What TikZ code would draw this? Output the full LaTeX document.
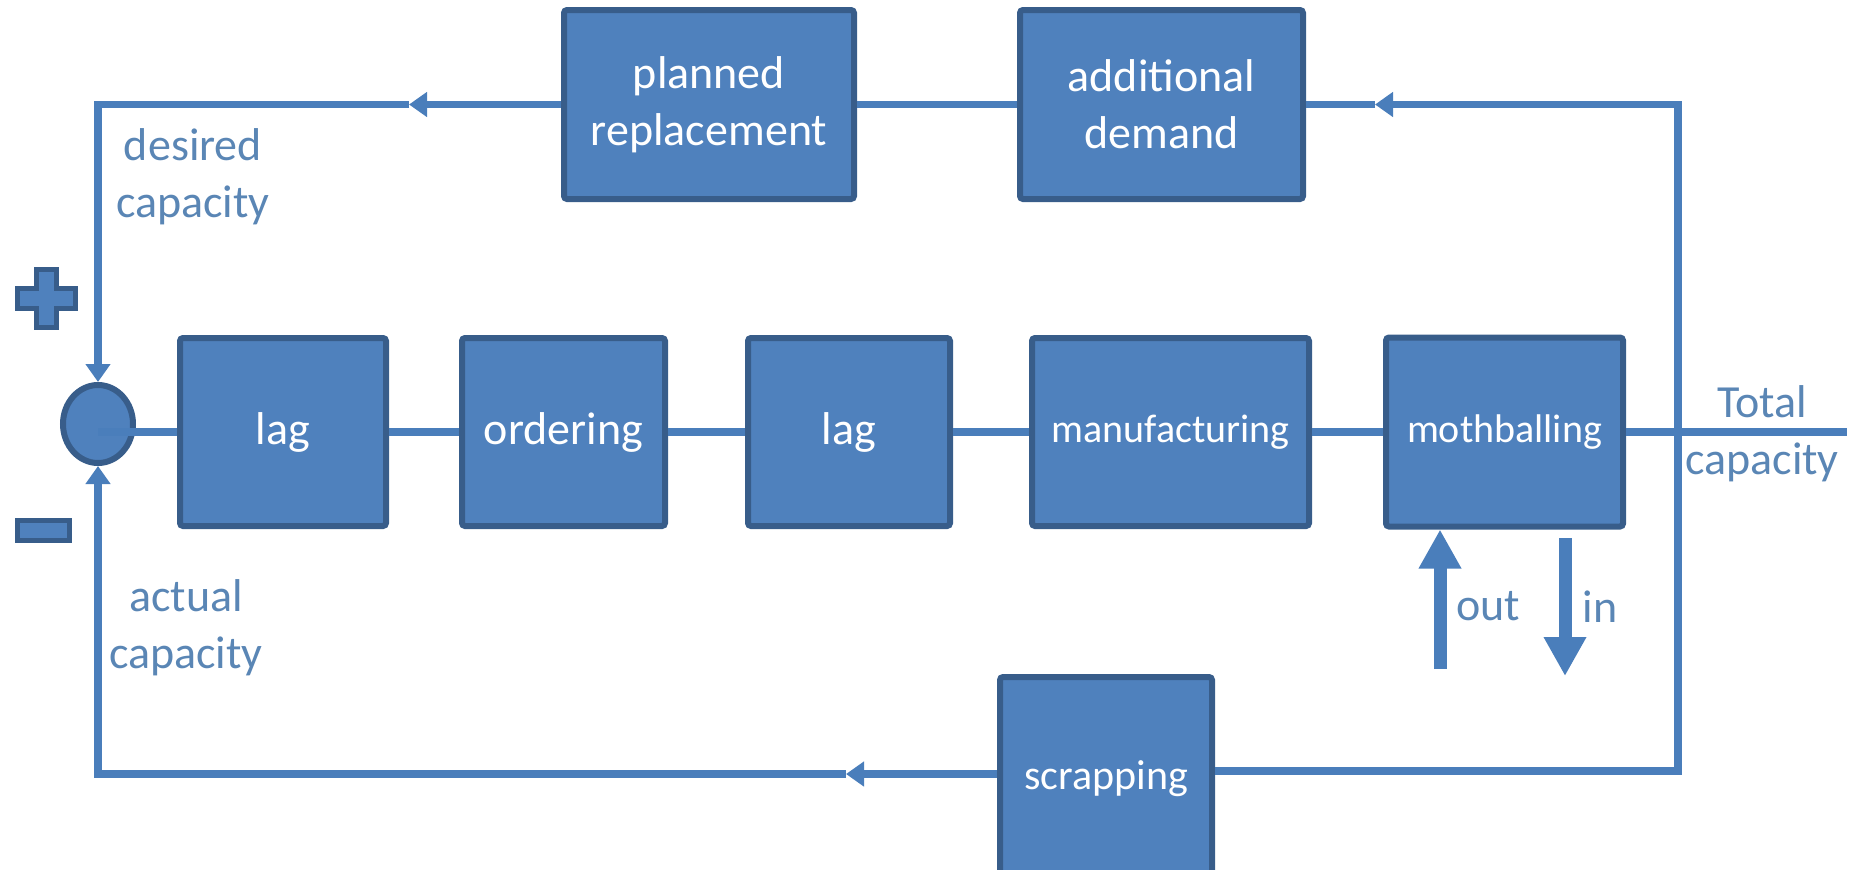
\documentclass[tikz,border=0pt]{standalone}
\usepackage{fontspec}
\setmainfont{Carlito}
\usetikzlibrary{arrows.meta,shapes.geometric}
\definecolor{boxfill}{HTML}{4F81BD}
\definecolor{boxedge}{HTML}{385D8A}
\definecolor{linecol}{HTML}{4A7EBB}
\definecolor{labelblue}{HTML}{5A86B5}
\begin{document}
\begin{tikzpicture}[x=0.5pt,y=-0.5pt,
  block/.style={draw=boxedge,fill=boxfill,line width=3pt,rounded corners=1.5pt,
    text=white,align=center,inner sep=0pt,font=\fontsize{23}{28.5}\selectfont},
  smalltext/.style={font=\fontsize{20}{24}\selectfont},
  conn/.style={draw=linecol,line width=3.75pt},
  tip/.style={-{Triangle[length=9pt,width=12pt]}},
  lbl/.style={text=labelblue,align=center,inner sep=0pt,font=\fontsize{23}{28.5}\selectfont},
  fat/.style={draw=linecol,line width=6.5pt,-{Triangle[length=19.5pt,width=20pt]}},
  sign/.style={draw=boxedge,fill=boxfill,line width=2.5pt},
]
\useasboundingbox (0,0) rectangle (1861,869);

% feedback blocks on top
\node[block,minimum width=145pt,minimum height=94.5pt] (plan) at (709,104.5) {planned\\replacement};
\node[block,minimum width=141.5pt,minimum height=94.5pt] (dem) at (1161.5,104.5) {additional\\demand};

% summing junction
\node[ellipse,draw=boxedge,fill=boxfill,line width=3pt,minimum width=35pt,minimum height=39pt,inner sep=0pt] (sum) at (98,424) {};

% forward chain
\node[block,minimum width=103pt,minimum height=94pt] (lag1) at (283,432) {lag};
\node[block,minimum width=101.5pt,minimum height=94pt] (ord) at (563.5,432) {ordering};
\node[block,minimum width=101pt,minimum height=94pt] (lag2) at (849,432) {lag};
\node[block,smalltext,minimum width=138.5pt,minimum height=94pt] (manu) at (1170.5,432) {manufacturing};
\node[block,smalltext,minimum width=118.5pt,minimum height=94.5pt] (moth) at (1504.5,432) {mothballing};

% scrapping block, running past the lower edge
\node[block,font=\fontsize{21}{25}\selectfont,minimum width=106pt,minimum height=102pt] (scrap) at (1106,779) {scrapping};

% plus and minus signs
\draw[sign] (36.5,269.5) -- (56.5,269.5) -- (56.5,288.5) -- (75.5,288.5) -- (75.5,308.5)
  -- (56.5,308.5) -- (56.5,327.5) -- (36.5,327.5) -- (36.5,308.5) -- (17.5,308.5)
  -- (17.5,288.5) -- (36.5,288.5) -- cycle;
\draw[sign] (17.5,520.5) rectangle (69.5,540.5);

% connector corners and arrow positions
\coordinate (rend) at (1847,432);
\coordinate (tr) at (1678,104.5);
\coordinate (br) at (1678,771);
\coordinate (ta) at (1375,104.5);
\coordinate (a1) at (409,104.5);
\coordinate (tl) at (98,104.5);
\coordinate (a2) at (846,774);
\coordinate (bl) at (98,774);

% forward path
\draw[conn] (sum.center |- lag1.west) -- (lag1.west);
\draw[conn] (lag1.east) -- (ord.west);
\draw[conn] (ord.east) -- (lag2.west);
\draw[conn] (lag2.east) -- (manu.west);
\draw[conn] (manu.east) -- (moth.west);
\draw[conn] (moth.east) -- (rend);

% feedback loops
\draw[conn,tip] (scrap.east |- br) -- (br) -- (tr) -- (ta);
\draw[conn] (ta) -- (dem.east);
\draw[conn] (dem.west) -- (plan.east);
\draw[conn,tip] (plan.west) -- (a1);
\draw[conn,tip] (a1) -- (tl) -- (sum.north);
\draw[conn,tip] (scrap.west |- a2) -- (a2);
\draw[conn,tip] (a2) -- (bl) -- (sum.south);

% mothballing flows
\coordinate (ob) at (1440,669);
\draw[fat] (ob) -- (ob |- moth.south);
\coordinate (it) at (1565,538);
\coordinate (ie) at (1565,676);
\draw[fat] (it) -- (ie);

% labels
\node[lbl] (des) at (193,177) {desired\\capacity};
\node[lbl] (act) at (186,627.5) {actual\\capacity};
\node[lbl] (tot) at (1762,433.5) {Total\\capacity};
\node[lbl] (outl) at (1488,606.5) {out};
\node[lbl] (inl) at (1600,607) {in};
\end{tikzpicture}
\end{document}
